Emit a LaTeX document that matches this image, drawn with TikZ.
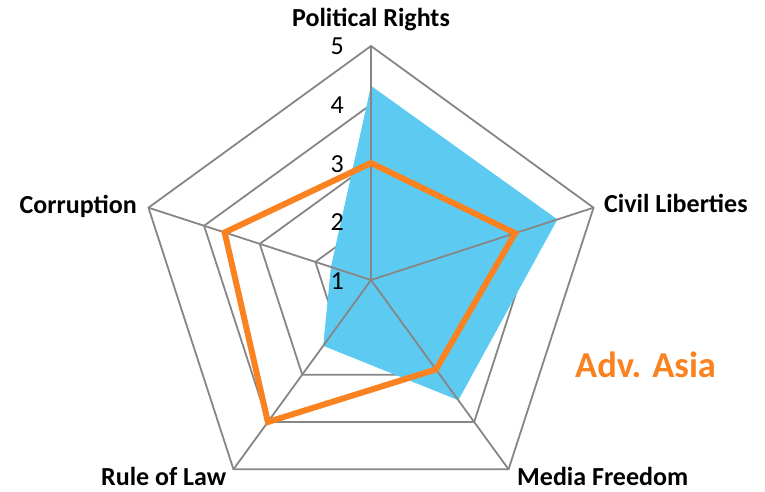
\documentclass[tikz,border=0pt]{standalone}
\usepackage{fontspec}
\setmainfont{Carlito}
\definecolor{gridgray}{RGB}{134,134,134}
\definecolor{areablue}{RGB}{93,203,241}
\definecolor{lineorange}{RGB}{250,130,32}
\tikzset{
  gridline/.style={draw=gridgray, line width=1.8pt, line join=miter},
  seriesline/.style={draw=lineorange, line width=6pt, line join=miter},
  axislabel/.style={inner sep=0pt, font=\fontsize{26}{30}\selectfont\bfseries, text=black},
  ticklabel/.style={inner sep=0pt, anchor=base east, font=\fontsize{26}{30}\selectfont, text=black},
}
\begin{document}
\begin{tikzpicture}[x=1pt,y=1pt]
\useasboundingbox (0,0) rectangle (765,491);
\begin{scope}[shift={(371,211)}]
  \coordinate (c) at (0,0);
  \foreach \n/\a in {pr/90,cl/18,mf/-54,rl/-126,co/162}{
    \coordinate (ax-\n) at (\a:234);
  }
  % grid rings
  \foreach \r in {1,2,3,4}{
    \draw[gridline] (90:{\r*58.5}) -- (18:{\r*58.5}) -- (-54:{\r*58.5})
       -- (-126:{\r*58.5}) -- (162:{\r*58.5}) -- cycle;
  }
  % blue area series
  \fill[areablue] (90:{3.32*58.5}) -- (18:{3.35*58.5}) -- (-54:{2.54*58.5})
     -- (-126:{1.39*58.5}) -- (162:{0.72*58.5}) -- cycle;
  % axes
  \foreach \n in {pr,cl,mf,rl,co}{
    \draw[gridline] (c) -- (ax-\n);
  }
  % orange line series
  \draw[seriesline] (90:{2*58.5}) -- (18:{2.59*58.5}) -- (-54:{1.89*58.5})
     -- (-126:{3*58.5}) -- (162:{2.63*58.5}) -- cycle;
\end{scope}
% tick labels
\node[ticklabel] (t5) at (344,{491-55}) {5};
\node[ticklabel] (t4) at (344,{491-113.6}) {4};
\node[ticklabel] (t3) at (344,{491-172.2}) {3};
\node[ticklabel] (t2) at (344,{491-230.8}) {2};
\node[ticklabel] (t1) at (344,{491-289.4}) {1};
% axis labels
\node[axislabel, anchor=base] (lpr) at (371,{491-27}) {Political Rights};
\node[axislabel, anchor=base west] (lcl) at (604,{491-212}) {Civil Liberties};
\node[axislabel, anchor=base east] (lco) at (137,{491-213}) {Corruption};
\node[axislabel, anchor=base west] (lrl) at (101,{491-485}) {Rule of Law};
\node[axislabel, anchor=base west] (lmf) at (517,{491-485}) {Media Freedom};
% series title
\node[inner sep=0pt, anchor=base west, font=\fontsize{36.5}{42}\selectfont\bfseries, text=lineorange] (title) at (575,{491-377}) {Adv. Asia};
\end{tikzpicture}
\end{document}
